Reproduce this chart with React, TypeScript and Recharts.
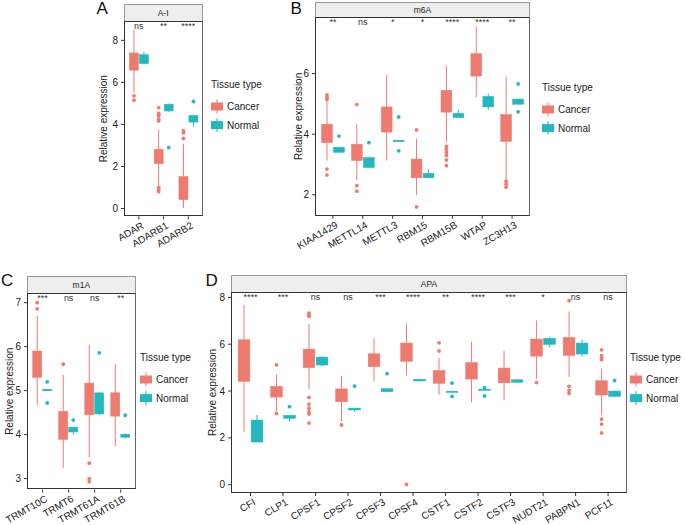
import React from "react";
import { ComposedChart, Bar, XAxis, YAxis } from "recharts";

const CANCER = "#EE7B6F";
const NORMAL = "#23B8C0";
const FONT = '"Liberation Sans", Arial, Helvetica, sans-serif';
const legendLabels = ["Cancer", "Normal"];

// each box: [whisker low, q1, median, q3, whisker high]

// A-I
const aGenes = ["ADAR", "ADARB1", "ADARB2"];
const aSig = ["ns", "**", "****"];
const aCancer = [
  [5.5, 6.58, 7.0, 7.4, 8.51],
  [1.09, 2.13, 2.45, 2.82, 3.76],
  [0.02, 0.42, 0.9, 1.52, 3.09],
];
const aCancerOut = [[5.36, 5.15], [4.8, 4.53, 4.45, 4.4, 4.24, 4.16, 1.0, 0.91, 0.8], [3.7, 3.6, 3.33]];
const aNormal = [
  [6.85, 6.89, 7.1, 7.32, 7.44],
  [4.6, 4.64, 4.8, 4.96, 5.0],
  [3.89, 4.11, 4.25, 4.43, 4.45],
];
const aNormalOut = [[], [2.9], [5.09]];

// m6A
const bGenes = ["KIAA1429", "METTL14", "METTL3", "RBM15", "RBM15B", "WTAP", "ZC3H13"];
const bSig = ["**", "ns", "*", "*", "****", "****", "**"];
const bCancer = [
  [3.13, 3.72, 4.0, 4.33, 5.1],
  [2.49, 3.13, 3.4, 3.67, 4.33],
  [3.13, 4.07, 4.5, 4.9, 5.96],
  [1.99, 2.56, 2.85, 3.18, 3.85],
  [3.72, 4.73, 5.05, 5.45, 6.27],
  [5.22, 5.92, 6.3, 6.66, 7.56],
  [2.49, 3.76, 4.2, 4.65, 5.9],
];
const bCancerOut = [
  [5.3, 5.22, 5.15, 2.85, 2.65],
  [4.98, 2.3, 2.12],
  [],
  [4.14, 1.6],
  [3.6, 3.5, 3.4, 3.3, 3.15, 2.96],
  [],
  [2.45, 2.35, 2.25],
];
const bNormal = [
  [3.4, 3.4, 3.47, 3.57, 3.58],
  [2.9, 2.9, 3.0, 3.23, 3.24],
  [3.76, 3.76, 3.78, 3.8, 3.81],
  [2.55, 2.56, 2.65, 2.71, 2.85],
  [4.54, 4.55, 4.6, 4.69, 4.8],
  [4.8, 4.9, 5.1, 5.25, 5.34],
  [4.98, 4.99, 5.07, 5.16, 5.17],
];
const bNormalOut = [[3.94], [3.72], [4.57, 3.45], [], [], [], [5.66, 4.74]];

// m1A
const cGenes = ["TRMT10C", "TRMT6", "TRMT61A", "TRMT61B"];
const cSig = ["***", "ns", "ns", "**"];
const cCancer = [
  [4.67, 5.3, 5.55, 5.9, 6.7],
  [3.24, 3.89, 4.15, 4.53, 5.36],
  [3.48, 4.45, 4.75, 5.17, 6.05],
  [3.74, 4.42, 4.6, 4.95, 5.6],
];
const cCancerOut = [[7.0, 6.86], [5.6], [3.35, 3.0, 2.93], []];
const cNormal = [
  [4.99, 5.0, 5.01, 5.03, 5.04],
  [4.0, 4.06, 4.1, 4.17, 4.18],
  [4.44, 4.47, 4.55, 4.95, 4.96],
  [3.91, 3.94, 3.97, 4.01, 4.02],
];
const cNormalOut = [[5.2, 4.72], [4.33], [5.86], [4.44]];

// APA
const dGenes = ["CFI", "CLP1", "CPSF1", "CPSF2", "CPSF3", "CPSF4", "CSTF1", "CSTF2", "CSTF3", "NUDT21", "PABPN1", "PCF11"];
const dSig = ["****", "***", "ns", "ns", "***", "****", "**", "****", "***", "*", "ns", "ns"];
const dCancer = [
  [2.26, 4.41, 5.3, 6.19, 7.69],
  [3.15, 3.74, 3.95, 4.2, 4.7],
  [4.09, 5.0, 5.4, 5.79, 6.87],
  [2.7, 3.54, 3.8, 4.09, 4.65],
  [4.41, 5.04, 5.3, 5.59, 6.25],
  [4.67, 5.27, 5.7, 6.05, 6.87],
  [3.84, 4.33, 4.55, 4.88, 5.41],
  [3.52, 4.51, 4.85, 5.22, 6.1],
  [3.6, 4.35, 4.6, 4.98, 5.72],
  [4.53, 5.49, 5.85, 6.22, 7.02],
  [4.6, 5.52, 5.9, 6.29, 7.4],
  [2.97, 3.83, 4.1, 4.44, 4.97],
];
const dCancerOut = [
  [],
  [5.12, 3.04],
  [7.33, 7.25, 7.19, 3.73, 3.44, 3.27, 3.12, 3.02, 2.63],
  [2.55],
  [],
  [0.01],
  [6.06, 5.71],
  [],
  [],
  [4.36],
  [7.86, 4.2, 4.03, 3.9],
  [5.76, 5.51, 5.42, 5.34, 2.8, 2.59, 2.21],
];
const dNormal = [
  [1.82, 1.82, 2.0, 2.76, 2.98],
  [2.7, 2.83, 2.9, 2.96, 2.97],
  [5.05, 5.11, 5.3, 5.45, 5.5],
  [3.12, 3.19, 3.22, 3.27, 3.28],
  [3.96, 3.97, 4.03, 4.1, 4.11],
  [4.4, 4.43, 4.47, 4.49, 4.53],
  [3.94, 3.95, 3.97, 3.99, 4.0],
  [4.02, 4.03, 4.06, 4.08, 4.09],
  [4.36, 4.37, 4.42, 4.48, 4.52],
  [5.88, 5.99, 6.1, 6.25, 6.32],
  [5.48, 5.58, 5.8, 6.05, 6.19],
  [3.76, 3.77, 3.9, 4.0, 4.01],
];
const dNormalOut = [[], [3.33], [], [4.21], [4.74], [], [4.34, 3.77], [4.14, 3.79], [], [], [], [4.45]];

function buildRows(genes: string[], sig: string[], cancer: number[][], cancerOut: number[][], normal: number[][], normalOut: number[][]) {
  return genes.map((gene, i) => ({
    gene,
    sig: sig[i],
    cRange: [cancer[i][0], cancer[i][4]],
    nRange: [normal[i][0], normal[i][4]],
    cStats: cancer[i],
    nStats: normal[i],
    cOut: cancerOut[i],
    nOut: normalOut[i],
  }));
}

// box drawn inside the range bar (whisker low..high); other values mapped on the same scale
function boxShape(color: string, statsKey: string, outKey: string) {
  return (props: any) => {
    const { x, y, width, height, payload } = props;
    const s = payload[statsKey];
    const out: number[] = payload[outKey] || [];
    const top = Math.min(y, y + height);
    const bottom = Math.max(y, y + height);
    const lo = s[0];
    const hi = s[4];
    const py = (v: number) => bottom - ((v - lo) / (hi - lo)) * (bottom - top);
    const cx = x + width / 2;
    const bw = width * 0.9;
    const boxTop = py(s[3]);
    const boxH = Math.max(py(s[1]) - boxTop, 1);
    return (
      <g>
        <line x1={cx} x2={cx} y1={py(hi)} y2={boxTop} stroke={color} strokeWidth={1} />
        <line x1={cx} x2={cx} y1={py(s[1])} y2={py(lo)} stroke={color} strokeWidth={1} />
        <rect x={cx - bw / 2} y={boxTop} width={bw} height={boxH} fill={color} stroke={color} strokeWidth={0.5} />
        <line x1={cx - bw / 2} x2={cx + bw / 2} y1={py(s[2])} y2={py(s[2])} stroke={color} strokeWidth={1} />
        {out.map((v, i) => (
          <circle key={i} cx={cx} cy={py(v)} r={1.9} fill={color} />
        ))}
      </g>
    );
  };
}

const cancerShape = boxShape(CANCER, "cStats", "cOut");
const normalShape = boxShape(NORMAL, "nStats", "nOut");

const RotTick = (props: any) => {
  const { x, y, payload } = props;
  return (
    <text x={x + 2} y={y} dy="0.72em" textAnchor="end" transform={`rotate(-30, ${x + 2}, ${y})`} fontSize={10} fill="#222">
      {payload.value}
    </text>
  );
};

function TissueLegend({ x, y }: { x: number; y: number }) {
  const colors = [CANCER, NORMAL];
  return (
    <svg style={{ position: "absolute", left: x, top: y - 10, overflow: "visible" }} width={54} height={60}>
      <text x={0} y={10} dy="0.35em" fontSize={10} fill="#222">Tissue type</text>
      {legendLabels.map((label, i) => {
        const cy = 32.5 + i * 18.6;
        return (
          <g key={label}>
            <line x1={6} x2={6} y1={cy - 7} y2={cy + 7} stroke={colors[i]} strokeWidth={1} />
            <rect x={0} y={cy - 4} width={12} height={8} fill={colors[i]} />
            <text x={16} y={cy} dy="0.35em" fontSize={10} fill="#222">{label}</text>
          </g>
        );
      })}
    </svg>
  );
}

type PanelProps = {
  letter: string;
  title: string;
  rows: any[];
  plotX: number;
  plotY: number;
  plotW: number;
  plotH: number;
  stripY: number;
  domain: number[];
  ticks: number[];
  titleOff: number;
  legendX: number;
  legendY: number;
  letterX: number;
  letterY: number;
};

const AXIS_W = 40;

function Panel(p: PanelProps) {
  const n = p.rows.length;
  const u = p.plotW / (n + 0.2);
  const pad = 0.1 * u;
  const sigMap: Record<string, string> = {};
  p.rows.forEach((r) => (sigMap[r.gene] = r.sig));
  return (
    <>
      <div style={{ position: "absolute", left: p.letterX, top: p.letterY, fontSize: 17, lineHeight: "17px", color: "#111" }}>{p.letter}</div>
      <div
        style={{
          position: "absolute",
          left: p.plotX,
          top: p.stripY,
          width: p.plotW,
          height: p.plotY - p.stripY,
          boxSizing: "border-box",
          background: "#EEEEEE",
          border: "1px solid #9a9a9a",
          borderBottom: "none",
          fontSize: 8.5,
          color: "#222",
          display: "flex",
          alignItems: "center",
          justifyContent: "center",
        }}
      >
        {p.title}
      </div>
      <div style={{ position: "absolute", left: p.plotX - AXIS_W, top: p.plotY }}>
        <ComposedChart
          width={p.plotW + AXIS_W + 2}
          height={p.plotH + 60}
          data={p.rows}
          margin={{ top: 0, right: 2, left: 0, bottom: 0 }}
          barCategoryGap="10%"
          barGap={0}
        >
          <XAxis
            dataKey="gene"
            interval={0}
            height={60}
            padding={{ left: pad, right: pad }}
            tickSize={3}
            tickMargin={2}
            axisLine={false}
            tickLine={{ stroke: "#333" }}
            tick={<RotTick />}
          />
          <XAxis
            xAxisId="sig"
            dataKey="gene"
            orientation="top"
            mirror
            height={12}
            interval={0}
            padding={{ left: pad, right: pad }}
            axisLine={false}
            tickLine={false}
            tickSize={0}
            tickMargin={2}
            tickFormatter={(g: string) => sigMap[g]}
            tick={{ fontSize: 9, fill: "#333" }}
          />
          <YAxis
            type="number"
            domain={p.domain}
            ticks={p.ticks}
            allowDataOverflow
            width={AXIS_W}
            tickSize={3}
            tickMargin={3}
            axisLine={false}
            tickLine={{ stroke: "#333" }}
            tick={{ fontSize: 10, fill: "#222" }}
            label={{
              value: "Relative expression",
              angle: -90,
              position: "center",
              dx: AXIS_W / 2 - p.titleOff,
              fontSize: 10,
              fill: "#222",
            }}
          />
          <Bar dataKey="cRange" fill={CANCER} shape={cancerShape} isAnimationActive={false} />
          <Bar dataKey="nRange" fill={NORMAL} shape={normalShape} isAnimationActive={false} />
        </ComposedChart>
      </div>
      <div
        style={{
          position: "absolute",
          left: p.plotX,
          top: p.plotY,
          width: p.plotW,
          height: p.plotH,
          boxSizing: "border-box",
          border: "1px solid #333",
          borderRightColor: "#666",
          pointerEvents: "none",
        }}
      />
      <TissueLegend x={p.legendX} y={p.legendY} />
    </>
  );
}

export default function App() {
  return (
    <div style={{ position: "absolute", left: 0, top: 0, width: 685, height: 525, background: "#fff", fontFamily: FONT, overflow: "hidden" }}>
      <Panel
        letter="A"
        title="A-I"
        rows={buildRows(aGenes, aSig, aCancer, aCancerOut, aNormal, aNormalOut)}
        plotX={123.5}
        plotY={20.7}
        plotW={79.2}
        plotH={195.3}
        stripY={4}
        domain={[-0.37, 8.92]}
        ticks={[0, 2, 4, 6, 8]}
        titleOff={21}
        legendX={211}
        legendY={84}
        letterX={96.5}
        letterY={0}
      />
      <Panel
        letter="B"
        title="m6A"
        rows={buildRows(bGenes, bSig, bCancer, bCancerOut, bNormal, bNormalOut)}
        plotX={315}
        plotY={17.3}
        plotW={215}
        plotH={198.7}
        stripY={1.7}
        domain={[1.31, 7.87]}
        ticks={[2, 4, 6]}
        titleOff={17}
        legendX={541.7}
        legendY={87}
        letterX={290.5}
        letterY={0}
      />
      <Panel
        letter="C"
        title="m1A"
        rows={buildRows(cGenes, cSig, cCancer, cCancerOut, cNormal, cNormalOut)}
        plotX={26.7}
        plotY={292.7}
        plotW={109.3}
        plotH={196.6}
        stripY={275.7}
        domain={[2.75, 7.22]}
        ticks={[3, 4, 5, 6, 7]}
        titleOff={17.7}
        legendX={140}
        legendY={356.7}
        letterX={1}
        letterY={271.5}
      />
      <Panel
        letter="D"
        title="APA"
        rows={buildRows(dGenes, dSig, dCancer, dCancerOut, dNormal, dNormalOut)}
        plotX={230.7}
        plotY={292.3}
        plotW={396.6}
        plotH={201}
        stripY={275}
        domain={[-0.355, 8.23]}
        ticks={[0, 2, 4, 6, 8]}
        titleOff={19}
        legendX={630}
        legendY={356.7}
        letterX={205.5}
        letterY={271.5}
      />
    </div>
  );
}
